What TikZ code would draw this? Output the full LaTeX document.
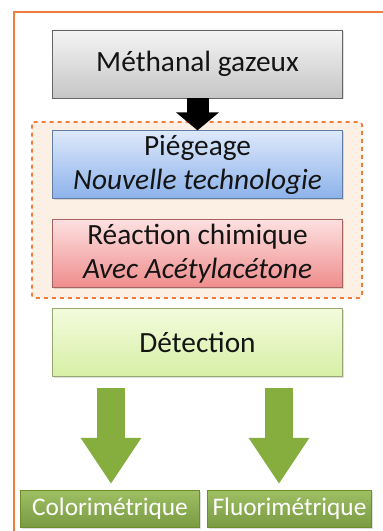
\documentclass[tikz,border=0pt]{standalone}
\usepackage{fontspec}
\setmainfont{Carlito}
\usepackage{tikz}
\usetikzlibrary{arrows.meta,positioning,shadows}

\definecolor{cadre}{HTML}{F07D3C}
\definecolor{zone}{HTML}{FCEFE3}
\definecolor{vertfleche}{HTML}{86AE3E}
\definecolor{vertbord}{HTML}{6A8F2C}
\definecolor{bleuhaut}{HTML}{DDE8FB}
\definecolor{bleubas}{HTML}{8CB2EA}
\definecolor{rougehaut}{HTML}{FDE0E0}
\definecolor{rougebas}{HTML}{EF8C8C}
\definecolor{verthaut}{HTML}{F4FBDD}
\definecolor{vertbas}{HTML}{D6EFA5}
\definecolor{texte}{HTML}{141414}

\begin{document}
\begin{tikzpicture}[
  x=0.75pt, y=-0.75pt,
  node distance=15pt and 5pt,
  etape/.style={rectangle, draw=#1, line width=0.6pt,
               minimum width=218pt, minimum height=51pt, align=center,
               font=\fontsize{22}{25}\selectfont\color{texte},
               drop shadow={opacity=0.25, shadow xshift=1pt, shadow yshift=-1pt}},
  resultat/.style={rectangle, draw=vertbord, line width=0.6pt,
               top color=vertfleche!80!white, bottom color=vertbord!90!white,
               minimum height=28pt, inner xsep=3pt, align=center,
               font=\fontsize{19}{22}\selectfont\color{white},
               drop shadow={opacity=0.25, shadow xshift=1pt, shadow yshift=-1pt}},
  fleche/.style={line width=16.5pt, -{Triangle[width=31.5pt,length=13.5pt]}},
  flechevert/.style={line width=21pt, draw=vertfleche,
               -{Triangle[width=43pt,length=34.5pt]}}
]
\useasboundingbox (0,0) rectangle (382,531);
% cadre exterieur et zone de traitement
\draw[cadre, line width=2pt] (14,12) rectangle (400,560);
\draw[cadre, dashed, line width=1.2pt, fill=zone, rounded corners=2pt]
  (32,122) rectangle (362,298);

\node[etape=gray!80!black, top color=gray!8, bottom color=gray!45] (methanal) at (197.5,64)
  {M\'ethanal gazeux};
\node[etape=bleubas!70!black, top color=bleuhaut, bottom color=bleubas,
      below=24pt of methanal] (piegeage)
  {Pi\'egeage\\ \textit{Nouvelle technologie}};
\node[etape=rougebas!70!black, top color=rougehaut, bottom color=rougebas,
      below=of piegeage] (reaction)
  {R\'eaction chimique\\ \textit{Avec Ac\'etylac\'etone}};
\node[etape=vertbas!70!black, top color=verthaut, bottom color=vertbas,
      below=of reaction] (detection) {D\'etection};

\node[resultat, minimum width=134pt] (colori) at (110,509) {Colorim\'etrique};
\node[resultat, minimum width=123pt] (fluori) at (289.5,509) {Fluorim\'etrique};

\draw[fleche] (methanal.south) -- (piegeage.north);

% fleches vers les deux modes de detection
\coordinate (depart1) at (111,388);
\coordinate (depart2) at (279,388);
\draw[flechevert] (depart1) -- ([yshift=4.5pt]depart1 |- colori.north);
\draw[flechevert] (depart2) -- ([yshift=4.5pt]depart2 |- fluori.north);
\end{tikzpicture}
\end{document}
